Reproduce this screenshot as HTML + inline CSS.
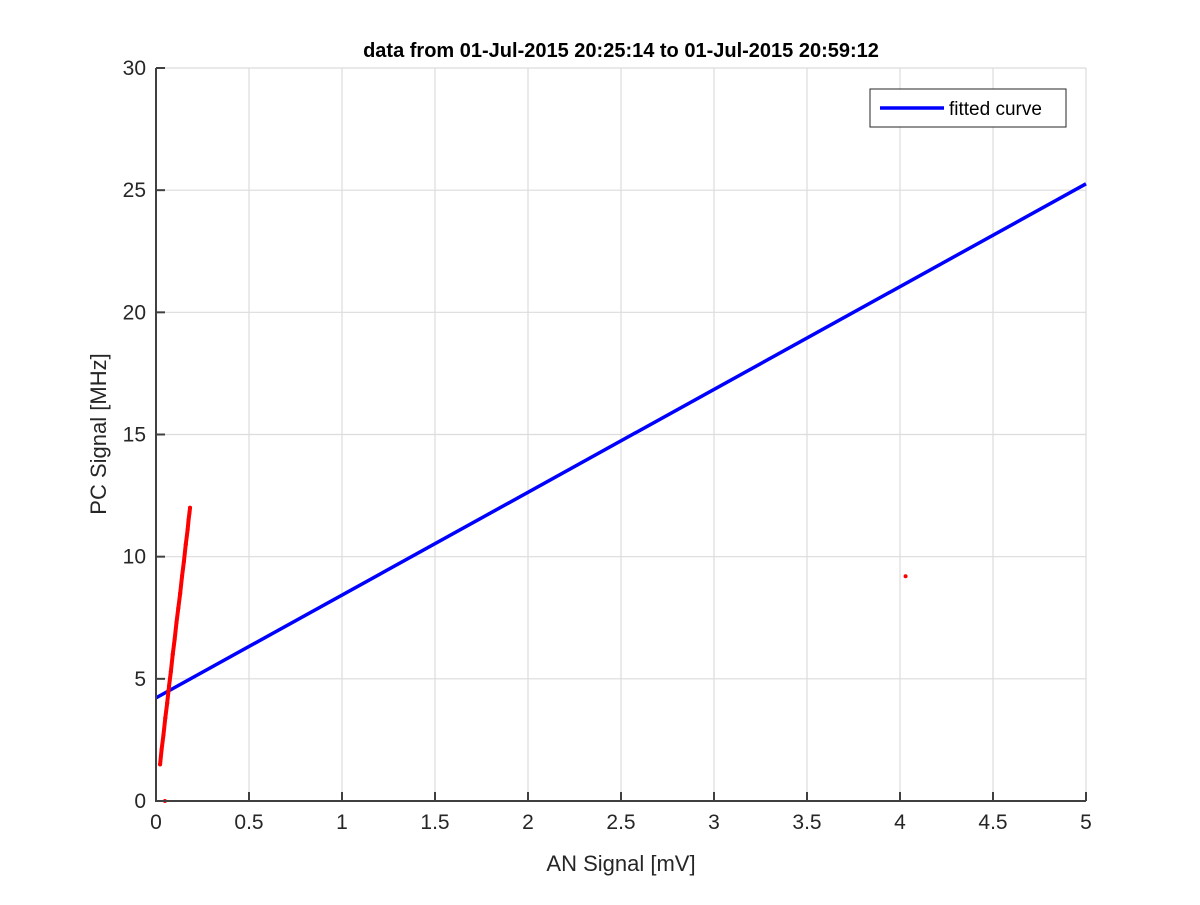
<!DOCTYPE html>
<html><head><meta charset="utf-8"><style>
body{margin:0;background:#fff;}
svg text{font-family:"Liberation Sans",sans-serif;}
</style></head><body>
<svg id="chart" width="1200" height="900">
<rect width="1200" height="900" fill="#fff"/>
<g id="grid"></g><g id="marks"></g><g id="axes"></g>
</svg>
<script>
const xTicks=[0,0.5,1,1.5,2,2.5,3,3.5,4,4.5,5];
const yTicks=[0,5,10,15,20,25,30];
const xTickLabels=["0","0.5","1","1.5","2","2.5","3","3.5","4","4.5","5"];
const yTickLabels=["0","5","10","15","20","25","30"];
const anValues=[0.022,0.03,0.04,0.05,0.06,0.07,0.08,0.09,0.10,0.11,0.12,0.13,0.14,0.15,0.16,0.17,0.175,0.18,0.183,0.048,4.03];
const pcValues=[1.5,2.1,2.7,3.4,4.0,4.7,5.3,6.0,6.6,7.3,7.9,8.5,9.2,9.8,10.5,11.1,11.5,11.8,12.0,0,9.2];
const fitX=[0,5];
const fitY=[4.22,25.26];
const L=156,R=1086,T=68,B=801;
const sx=v=>L+(v-0)/5*(R-L);
const sy=v=>B-(v-0)/30*(B-T);
const NS="http://www.w3.org/2000/svg";
function mk(tag,attrs,parent){const e=document.createElementNS(NS,tag);for(const k in attrs)e.setAttribute(k,attrs[k]);parent.appendChild(e);return e;}
const grid=document.getElementById('grid'),marks=document.getElementById('marks'),axes=document.getElementById('axes');
xTicks.forEach((t,i)=>{
 const g=mk('line',{x1:sx(t),x2:sx(t),y1:T,y2:B,stroke:'#dcdcdc','stroke-width':1.2},grid);
 
 
 const tk=mk('line',{x1:sx(t),x2:sx(t),y1:B,y2:B-9,stroke:'#404040','stroke-width':2},axes);
 
 
 const lb=mk('text',{x:sx(t),y:B+28,'text-anchor':'middle','font-size':21,fill:'#262626'},axes);
 lb.textContent=xTickLabels[i];
 
 
});
yTicks.forEach((t,i)=>{
 const g=mk('line',{x1:L,x2:R,y1:sy(t),y2:sy(t),stroke:'#dcdcdc','stroke-width':1.2},grid);
 
 
 const tk=mk('line',{x1:L,x2:L+9,y1:sy(t),y2:sy(t),stroke:'#404040','stroke-width':2},axes);
 
 
 const lb=mk('text',{x:L-10,y:sy(t)+7,'text-anchor':'end','font-size':21,fill:'#262626'},axes);
 lb.textContent=yTickLabels[i];
 
 
});
const fl=mk('line',{x1:sx(fitX[0]),y1:sy(fitY[0]),x2:sx(fitX[1]),y2:sy(fitY[1]),stroke:'#0000ff','stroke-width':3.5},marks);


for(let i=0;i<18;i++){
 const s=mk('line',{x1:sx(anValues[i]),y1:sy(pcValues[i]),x2:sx(anValues[i+1]),y2:sy(pcValues[i+1]),stroke:'#ff0000','stroke-width':4,'stroke-linecap':'round'},marks);
 
 
}
anValues.forEach((v,i)=>{
 const c=mk('circle',{cx:sx(v),cy:sy(pcValues[i]),r:2,fill:'#ff0000'},marks);
 
 
});
const ax=mk('path',{d:`M${L},${T}V${B}H${R}`,fill:'none',stroke:'#404040','stroke-width':2},axes);


const lg=mk('g',{},axes);


mk('rect',{x:870,y:89,width:196,height:38,fill:'#fff',stroke:'#262626','stroke-width':1},lg);
mk('line',{x1:880,x2:944,y1:108,y2:108,stroke:'#0000ff','stroke-width':3.5},lg);
const lt=mk('text',{x:949,y:115,'font-size':19,fill:'#000'},lg);
lt.textContent='fitted curve';
const ti=mk('text',{x:621,y:57,'text-anchor':'middle','font-size':20,'font-weight':'bold',fill:'#000'},axes);
ti.textContent='data from 01-Jul-2015 20:25:14 to 01-Jul-2015 20:59:12';


const xl=mk('text',{x:621,y:871,'text-anchor':'middle','font-size':22,fill:'#262626'},axes);
xl.textContent='AN Signal [mV]';


const yl=mk('text',{x:0,y:0,'text-anchor':'middle','font-size':22,fill:'#262626',transform:'translate(106,434) rotate(-90)'},axes);
yl.textContent='PC Signal [MHz]';


</script>
</body></html>
